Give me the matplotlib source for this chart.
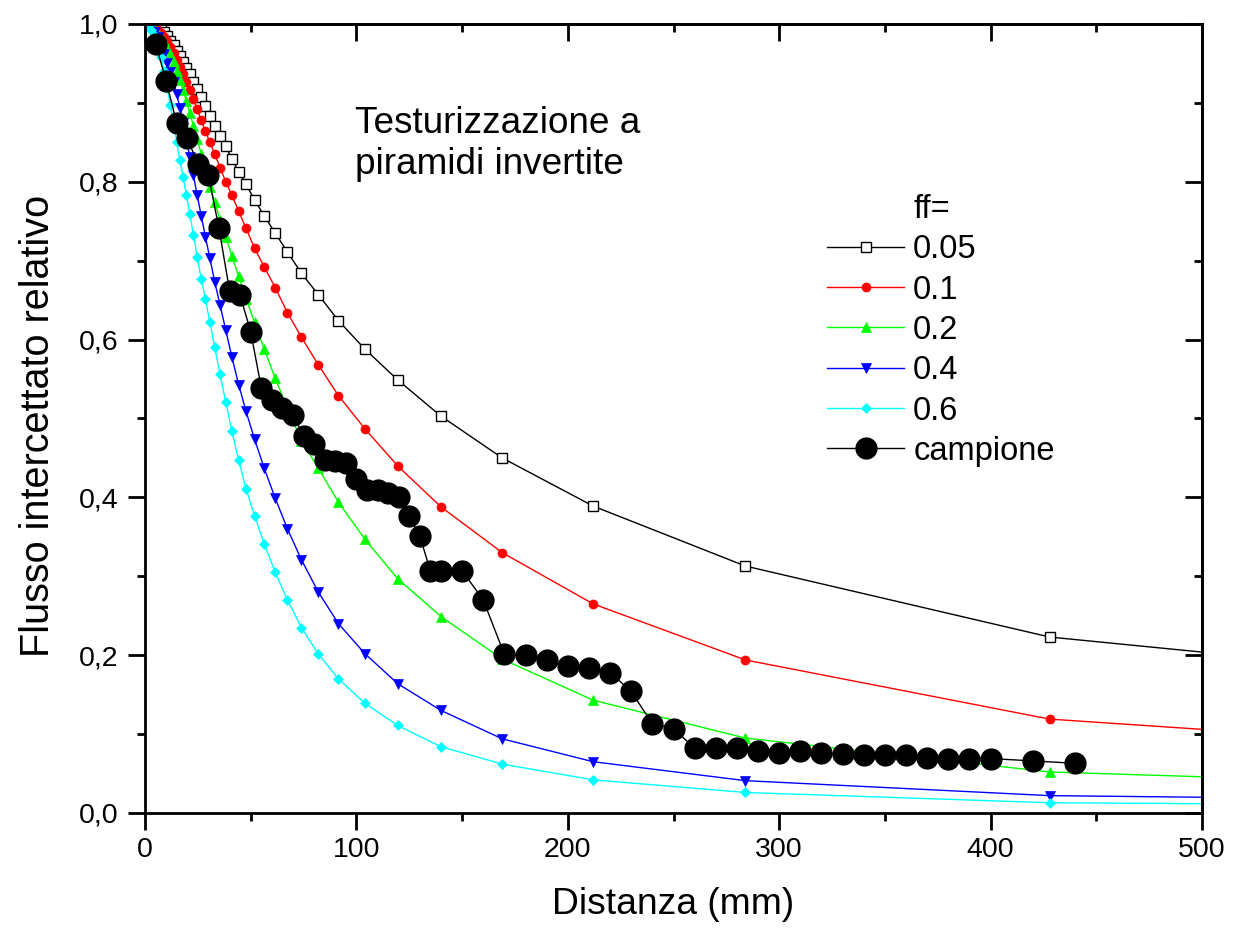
import matplotlib
matplotlib.use("Agg")
import matplotlib.pyplot as plt
from matplotlib.ticker import MultipleLocator, FuncFormatter
from matplotlib.lines import Line2D

# Simulated intercepted flux vs distance for several fill factors (ff)
distance_model = [0, 1.5, 3, 4.5, 6, 7.5, 9, 10.5, 12, 13.5,
                  15, 16.5, 18, 19.6, 21.2, 22.9, 24.7, 26.6, 28.6, 30.7,
                  33, 35.5, 38.2, 41.1, 44.3, 47.8, 51.8, 56.4, 61.6, 67.4,
                  74, 82, 91.5, 104, 119.5, 140, 169, 212, 284, 428,
                  855]

ff_005 = [1.0, 1.0, 1.0, 0.999, 0.997, 0.994, 0.990, 0.985, 0.979, 0.973,
          0.966, 0.959, 0.952, 0.944, 0.936, 0.927, 0.918, 0.908, 0.896, 0.884,
          0.871, 0.858, 0.845, 0.829, 0.813, 0.797, 0.777, 0.757, 0.735, 0.711,
          0.684, 0.657, 0.624, 0.588, 0.549, 0.503, 0.450, 0.389, 0.313, 0.223,
          0.110]

ff_01 = [1.0, 1.0, 0.998, 0.996, 0.993, 0.989, 0.984, 0.978, 0.971, 0.963,
         0.955, 0.946, 0.937, 0.927, 0.916, 0.905, 0.892, 0.878, 0.864, 0.850,
         0.835, 0.818, 0.800, 0.783, 0.763, 0.741, 0.716, 0.692, 0.666, 0.634,
         0.603, 0.568, 0.529, 0.487, 0.440, 0.388, 0.330, 0.265, 0.194, 0.119,
         0.042]

ff_02 = [1.0, 0.999, 0.997, 0.993, 0.989, 0.984, 0.978, 0.970, 0.962, 0.952,
         0.941, 0.929, 0.916, 0.902, 0.887, 0.871, 0.854, 0.835, 0.815, 0.794,
         0.774, 0.752, 0.730, 0.706, 0.680, 0.652, 0.622, 0.588, 0.551, 0.513,
         0.472, 0.437, 0.394, 0.347, 0.297, 0.249, 0.195, 0.143, 0.095, 0.052,
         0.016]

ff_04 = [1.0, 0.999, 0.996, 0.990, 0.983, 0.973, 0.962, 0.951, 0.939, 0.926,
         0.911, 0.894, 0.875, 0.854, 0.832, 0.808, 0.783, 0.757, 0.730, 0.703,
         0.673, 0.644, 0.612, 0.578, 0.543, 0.509, 0.474, 0.437, 0.399, 0.360,
         0.321, 0.280, 0.240, 0.202, 0.164, 0.130, 0.094, 0.065, 0.041, 0.022,
         0.010]

ff_06 = [1.0, 0.998, 0.993, 0.985, 0.973, 0.958, 0.940, 0.919, 0.897, 0.874,
         0.851, 0.828, 0.806, 0.783, 0.759, 0.733, 0.705, 0.677, 0.651, 0.622,
         0.590, 0.556, 0.521, 0.484, 0.447, 0.411, 0.377, 0.341, 0.305, 0.270,
         0.235, 0.2015, 0.170, 0.139, 0.111, 0.084, 0.062, 0.042, 0.026, 0.013,
         0.006]

# Measured sample
distance_sample = [5, 10, 15, 20, 25, 30, 35, 40, 45, 50,
                   55, 60, 65, 70, 75, 80, 85, 90, 95, 100,
                   105, 110, 115, 120, 125, 130, 135, 140, 150, 160,
                   170, 180, 190, 200, 210, 220, 230, 240, 250, 260,
                   270, 280, 290, 300, 310, 320, 330, 340, 350, 360,
                   370, 380, 390, 400, 420, 440]
campione = [0.975, 0.928, 0.874, 0.855, 0.823, 0.808, 0.741, 0.662, 0.656, 0.610,
            0.539, 0.524, 0.513, 0.505, 0.478, 0.468, 0.448, 0.446, 0.443, 0.423,
            0.410, 0.410, 0.405, 0.400, 0.376, 0.351, 0.307, 0.307, 0.307, 0.270,
            0.201, 0.200, 0.194, 0.186, 0.184, 0.178, 0.154, 0.113, 0.107, 0.082,
            0.082, 0.082, 0.079, 0.076, 0.078, 0.076, 0.075, 0.074, 0.074, 0.074,
            0.070, 0.069, 0.069, 0.069, 0.066, 0.063]

labels = ['0.05', '0.1', '0.2', '0.4', '0.6', 'campione']

plt.rcParams['font.family'] = ['Liberation Sans', 'DejaVu Sans']

W, H = 1234, 930
fig = plt.figure(figsize=(W / 100, H / 100), dpi=100)
L, R, T, B = 145, 1202, 24, 813
ax = fig.add_axes([L / W, 1 - B / H, (R - L) / W, (B - T) / H])

lw = 1.0
styles = [
    dict(color='black', marker='s', ms=6.8, mfc='white', mec='black', mew=1.0),
    dict(color='#ff0000', marker='o', ms=6.5, mfc='#ff0000', mec='#ff0000', mew=0.5),
    dict(color='#00ff00', marker='^', ms=7.8, mfc='#00ff00', mec='#00ff00', mew=0.5),
    dict(color='#0000ff', marker='v', ms=7.8, mfc='#0000ff', mec='#0000ff', mew=0.5),
    dict(color='#00ffff', marker='D', ms=5.2, mfc='#00ffff', mec='#00ffff', mew=0.5),
]
model_series = [ff_005, ff_01, ff_02, ff_04, ff_06]

handles = []
for ys, st in zip(model_series, styles):
    h, = ax.plot(distance_model, ys, lw=lw, **st)
    handles.append(h)

h, = ax.plot(distance_sample, campione, color='black', lw=1.0, marker='o',
             ms=15, mfc='black', mec='black')
handles.append(h)

ax.set_xlim(0, 500)
ax.set_ylim(0, 1.0)

ax.xaxis.set_major_locator(MultipleLocator(100))
ax.xaxis.set_minor_locator(MultipleLocator(50))
ax.yaxis.set_major_locator(MultipleLocator(0.2))
ax.yaxis.set_minor_locator(MultipleLocator(0.1))
ax.xaxis.set_major_formatter(FuncFormatter(lambda v, p: f"{v:.0f}"))
ax.yaxis.set_major_formatter(FuncFormatter(lambda v, p: f"{v:.1f}".replace('.', ',')))

MAJ, MIN = 12, 6
ax.tick_params(which='major', direction='out', length=MAJ, width=2.0,
               labelsize=20.5, pad=7, top=False, right=False)
ax.tick_params(which='minor', direction='out', length=MIN, width=2.0,
               top=False, right=False)
ax.tick_params(axis='x', which='major', pad=5.5)
for sp in ax.spines.values():
    sp.set_linewidth(2.0)

# mirrored inward ticks on top and right
top = ax.secondary_xaxis('top')
top.xaxis.set_major_locator(MultipleLocator(100))
top.xaxis.set_minor_locator(MultipleLocator(50))
top.tick_params(which='major', direction='in', length=MAJ, width=2.0, labeltop=False)
top.tick_params(which='minor', direction='in', length=MIN, width=2.0)
top.spines['top'].set_linewidth(2.0)
right = ax.secondary_yaxis('right')
right.yaxis.set_major_locator(MultipleLocator(0.2))
right.yaxis.set_minor_locator(MultipleLocator(0.1))
right.tick_params(which='major', direction='in', length=MAJ, width=2.0, labelright=False)
right.tick_params(which='minor', direction='in', length=MIN, width=2.0)
right.spines['right'].set_linewidth(2.0)

ax.set_xlabel('Distanza (mm)', fontsize=26.8, labelpad=17)
ax.set_ylabel('Flusso intercettato relativo', fontsize=28.5)
ax.yaxis.set_label_coords(-0.083, 0.49)

fig.text(355 / W, 1 - 132.7 / H, 'Testurizzazione a', fontsize=26.6,
         ha='left', va='baseline')
fig.text(355 / W, 1 - 173.5 / H, 'piramidi invertite', fontsize=26.6,
         ha='left', va='baseline')

blank = Line2D([], [], linestyle='none', marker=None)
ax.legend([blank] + handles, ['ff='] + labels, loc='upper left',
          bbox_to_anchor=(827 / W, 1 - 194 / H), bbox_transform=fig.transFigure,
          frameon=False, fontsize=23.5, handlelength=2.36, handletextpad=0.28,
          labelspacing=0.285, borderpad=0, borderaxespad=0, numpoints=1)

fig.savefig('out.png', dpi=100)
